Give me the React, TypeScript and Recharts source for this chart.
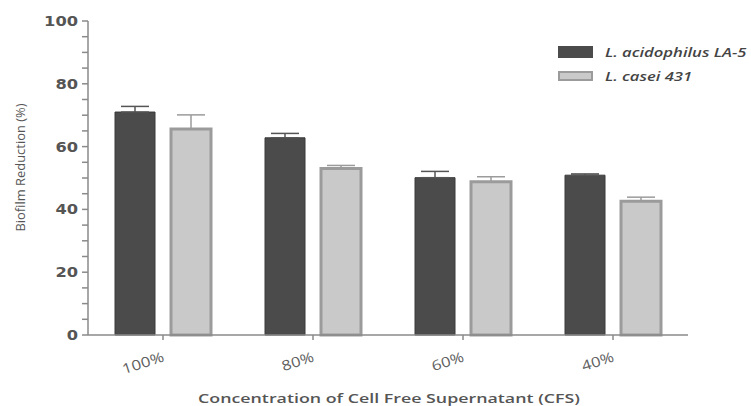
import React from 'react';
import { BarChart, Bar, XAxis, YAxis, ErrorBar } from 'recharts';

const categories = ['100%', '80%', '60%', '40%'];
const acidophilus = [71.0, 62.8, 50.1, 50.9];
const acidophilusErr = [1.8, 1.4, 2.0, 0.4];
const casei = [65.6, 53.0, 48.8, 42.6];
const caseiErr = [4.5, 1.0, 1.6, 1.3];
const yTicks = [0, 5, 10, 15, 20, 25, 30, 35, 40, 45, 50, 55, 60, 65, 70, 75, 80, 85, 90, 95, 100];

const seriesNames = ['L. acidophilus LA-5', 'L. casei 431'];

const data = categories.map((c, i) => ({
  name: c,
  acid: acidophilus[i],
  acidErr: [0, acidophilusErr[i]],
  casei: casei[i],
  caseiErr: [0, caseiErr[i]],
}));

const DARK = '#4b4b4b';
const LIGHT = '#c9c9c9';
const LIGHT_EDGE = '#9b9b9b';
const AXIS = '#8a8a8a';

// the source image is stretched sideways, so text gets a fixed textLength
const XTick = ({ x, payload }: any) => (
  <text
    x={x + 2}
    y={361}
    textAnchor="end"
    transform={`rotate(-18, ${x + 2}, 361)`}
    fontFamily="'Open Sans', sans-serif"
    fontSize={14}
    fill="#606060"
    textLength={payload.value.length === 4 ? 43 : 33}
    lengthAdjust="spacingAndGlyphs"
  >
    {payload.value}
  </text>
);

const YTick = ({ x, y, payload }: any) => {
  if (payload.value % 20 !== 0) return null;
  const s = String(payload.value);
  return (
    <text
      x={x - 2}
      y={y + 5}
      textAnchor="end"
      fontFamily="'DejaVu Sans', sans-serif"
      fontWeight="bold"
      fontSize={14}
      fill="#555"
      textLength={s.length * 11.3}
      lengthAdjust="spacingAndGlyphs"
    >
      {s}
    </text>
  );
};

const YLabel = () => (
  <text
    x={25}
    y={167.5}
    textAnchor="middle"
    transform="rotate(-90, 25, 167.5)"
    fontFamily="'Open Sans', sans-serif"
    fontSize={13}
    fill="#555"
    textLength={128}
    lengthAdjust="spacingAndGlyphs"
  >
    Biofilm Reduction (%)
  </text>
);

const XLabel = () => (
  <text
    x={389}
    y={403}
    textAnchor="middle"
    fontFamily="'Open Sans', sans-serif"
    fontWeight={600}
    fontSize={13}
    fill="#555"
    textLength={382}
    lengthAdjust="spacingAndGlyphs"
  >
    Concentration of Cell Free Supernatant (CFS)
  </text>
);

const LegendBox = () => (
  <div style={{ position: 'absolute', left: 558, top: 46, fontFamily: "'Open Sans', sans-serif" }}>
    {seriesNames.map((n, i) => (
      <div key={n} style={{ display: 'flex', alignItems: 'center', height: 12, marginBottom: 12 }}>
        <div
          style={{
            width: i === 0 ? 35 : 31,
            height: i === 0 ? 12 : 6,
            background: i === 0 ? DARK : LIGHT,
            border: i === 0 ? 'none' : `2px solid ${LIGHT_EDGE}`,
            marginRight: 12,
            flexShrink: 0,
          }}
        />
        <span
          style={{
            fontStyle: 'italic',
            fontWeight: 600,
            fontSize: 12.5,
            color: '#444',
            whiteSpace: 'nowrap',
            display: 'inline-block',
            transform: 'scaleX(1.33)',
            transformOrigin: 'left center',
          }}
        >
          {n}
        </span>
      </div>
    ))}
  </div>
);

export default function App() {
  return (
    <div style={{ position: 'absolute', left: 0, top: 0, width: 751, height: 406, background: '#fff', overflow: 'hidden' }}>
      <BarChart
        width={751}
        height={406}
        data={data}
        margin={{ top: 21, right: 63, left: 0, bottom: 0 }}
        barSize={40}
        barGap={16}
      >
        <XAxis
          dataKey="name"
          height={71}
          stroke={AXIS}
          strokeWidth={1.5}
          tickSize={5}
          tick={<XTick />}
          label={<XLabel />}
        />
        <YAxis
          width={88}
          domain={[0, 100]}
          ticks={yTicks}
          interval={0}
          stroke={AXIS}
          strokeWidth={1.5}
          tickSize={6}
          tick={<YTick />}
          label={<YLabel />}
        />
        <Bar dataKey="acid" fill={DARK} stroke="#3a3a3a" strokeWidth={1} isAnimationActive={false}>
          <ErrorBar dataKey="acidErr" direction="y" width={14} stroke="#555" strokeWidth={1.5} />
        </Bar>
        <Bar dataKey="casei" fill={LIGHT} stroke={LIGHT_EDGE} strokeWidth={3} isAnimationActive={false}>
          <ErrorBar dataKey="caseiErr" direction="y" width={14} stroke={LIGHT_EDGE} strokeWidth={1.5} />
        </Bar>
      </BarChart>
      <LegendBox />
    </div>
  );
}
